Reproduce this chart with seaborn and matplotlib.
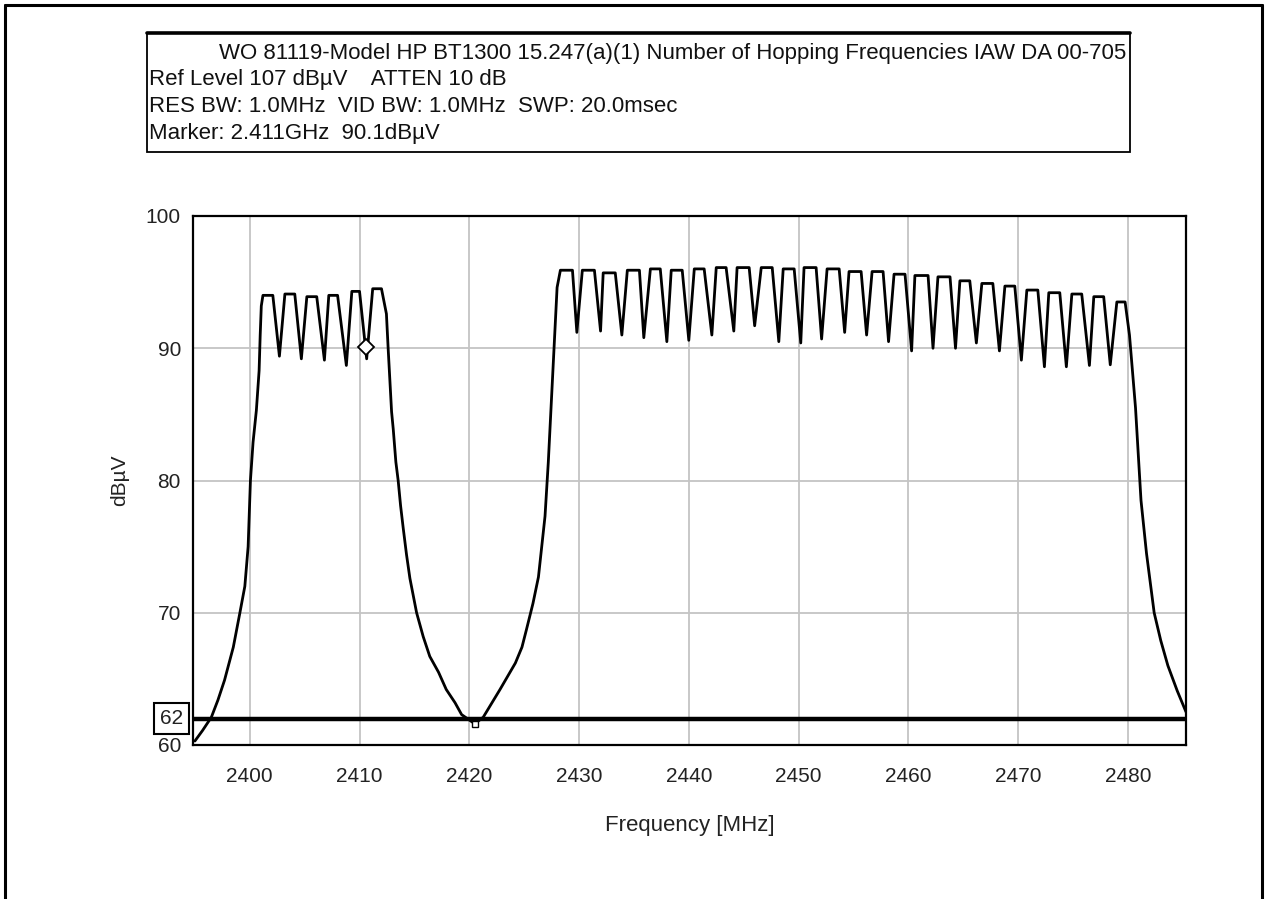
import numpy as np
import pandas as pd
import matplotlib
matplotlib.use("Agg")
import matplotlib.pyplot as plt
from matplotlib.patches import Rectangle
from matplotlib.lines import Line2D
import seaborn as sns

# ---------------- data ----------------
header_lines = [
    "WO 81119-Model HP BT1300 15.247(a)(1) Number of Hopping Frequencies IAW DA 00-705",
    "Ref Level 107 dB\u00b5V    ATTEN 10 dB",
    "RES BW: 1.0MHz  VID BW: 1.0MHz  SWP: 20.0msec",
    "Marker: 2.411GHz  90.1dB\u00b5V",
]
x_label = "Frequency [MHz]"
y_label = "dB\u00b5V"
x_ticks = [2400, 2410, 2420, 2430, 2440, 2450, 2460, 2470, 2480]
y_ticks = [60, 70, 80, 90, 100]
limit_level = 62
marker_freq, marker_level = 2410.6, 90.1
min_marker_freq, min_marker_level = 2420.5, 61.6

# rising skirt of the lower block
left_skirt_freq = [2395.0, 2395.7, 2396.5, 2397.1, 2397.7, 2398.5, 2399.1, 2399.55,
                   2399.85, 2400.06, 2400.3, 2400.6, 2400.85, 2400.95, 2401.05]
left_skirt_level = [60.3, 61.1, 62.1, 63.4, 64.9, 67.4, 70.0, 72.0,
                    75.0, 80.0, 82.9, 85.3, 88.3, 91.0, 93.2]

# hopping channels of the lower block: lobe tops and dips between them
left_top_start = [2401.2, 2403.2, 2405.2, 2407.2, 2409.3, 2411.2]
left_top_end = [2402.1, 2404.1, 2406.1, 2408.0, 2410.0, 2412.0]
left_top_level = [94.0, 94.1, 93.9, 94.0, 94.3, 94.5]
left_dip_freq = [2402.7, 2404.7, 2406.8, 2408.8, 2410.65]
left_dip_level = [89.4, 89.2, 89.1, 88.7, 89.2]

# gap between the two blocks
valley_freq = [2412.45, 2412.61, 2412.76, 2412.92, 2413.07, 2413.31, 2413.52, 2413.74,
               2413.98, 2414.28, 2414.59, 2414.89, 2415.2, 2415.8, 2416.4, 2417.2,
               2417.9, 2418.7, 2419.3, 2420.5, 2421.27, 2422.0, 2422.8, 2423.5,
               2424.2, 2424.8, 2425.2, 2425.8, 2426.3, 2426.6, 2426.9, 2427.2,
               2427.35, 2427.5, 2427.65, 2427.8, 2428.0]
valley_level = [92.6, 89.95, 87.7, 85.2, 83.9, 81.4, 80.0, 78.1,
                76.4, 74.4, 72.6, 71.3, 70.0, 68.2, 66.7, 65.5,
                64.2, 63.2, 62.3, 61.6, 62.1, 63.1, 64.2, 65.2,
                66.2, 67.4, 68.7, 70.7, 72.7, 75.0, 77.3, 81.4,
                83.9, 86.4, 88.9, 91.4, 94.6]

# hopping channels of the upper block
right_top_start = [2428.3, 2430.3, 2432.2, 2434.4, 2436.5, 2438.4, 2440.5, 2442.5, 2444.4,
                   2446.6, 2448.6, 2450.5, 2452.6, 2454.6, 2456.7, 2458.7, 2460.6, 2462.7,
                   2464.7, 2466.7, 2468.8, 2470.8, 2472.8, 2474.9, 2476.9, 2479.0]
right_top_end = [2429.4, 2431.4, 2433.3, 2435.5, 2437.4, 2439.4, 2441.4, 2443.4, 2445.5,
                 2447.6, 2449.6, 2451.6, 2453.7, 2455.7, 2457.7, 2459.7, 2461.8, 2463.8,
                 2465.6, 2467.7, 2469.7, 2471.8, 2473.8, 2475.8, 2477.8, 2479.75]
right_top_level = [95.9, 95.9, 95.7, 95.9, 96.0, 95.9, 96.0, 96.1, 96.1,
                   96.1, 96.0, 96.1, 96.0, 95.8, 95.8, 95.6, 95.5, 95.4,
                   95.1, 94.9, 94.7, 94.4, 94.2, 94.1, 93.9, 93.5]
right_dip_freq = [2429.8, 2431.96, 2433.9, 2435.9, 2438.0, 2440.0, 2442.1, 2444.1, 2446.0,
                  2448.2, 2450.2, 2452.1, 2454.2, 2456.2, 2458.2, 2460.3, 2462.25, 2464.3,
                  2466.2, 2468.3, 2470.3, 2472.4, 2474.4, 2476.5, 2478.4]
right_dip_level = [91.2, 91.3, 91.0, 90.8, 90.5, 90.6, 91.0, 91.3, 91.7,
                   90.5, 90.4, 90.7, 91.2, 91.0, 90.5, 89.8, 90.0, 90.0,
                   90.4, 89.8, 89.1, 88.6, 88.6, 88.7, 88.75]

# falling skirt of the upper block
right_skirt_freq = [2480.15, 2480.45, 2480.7, 2480.95, 2481.2, 2481.7, 2482.4, 2483.0,
                    2483.65, 2484.5, 2485.3]
right_skirt_level = [91.0, 88.0, 85.5, 82.0, 78.5, 74.5, 70.0, 67.9,
                     66.0, 64.1, 62.5]

# ---------------- assemble the trace in sweep order ----------------
def lobes(ts, te, tl, df, dl):
    f, v = [], []
    for i in range(len(ts)):
        f += [ts[i], te[i]]
        v += [tl[i], tl[i]]
        if i < len(df):
            f.append(df[i])
            v.append(dl[i])
    return f, v

lf, lv = lobes(left_top_start, left_top_end, left_top_level, left_dip_freq, left_dip_level)
rf, rv = lobes(right_top_start, right_top_end, right_top_level, right_dip_freq, right_dip_level)
trace = pd.DataFrame({
    "freq": left_skirt_freq + lf + valley_freq + rf + right_skirt_freq,
    "level": left_skirt_level + lv + valley_level + rv + right_skirt_level,
})

# ---------------- figure ----------------
sns.set_theme(style="white")
plt.rcParams["font.family"] = ["Liberation Sans", "DejaVu Sans"]
W, H = 1267, 899
fig = plt.figure(figsize=(W / 100, H / 100), dpi=100)
fig.patch.set_facecolor("white")

ax = fig.add_axes([192.7 / W, 1 - 745 / H, (1186 - 192.7) / W, (745 - 216) / H])
ax.set_facecolor("white")
ax.set_xlim(2394.8, 2485.3)
ax.set_ylim(60, 100)
ax.set_xticks(x_ticks)
ax.set_yticks(y_ticks)
ax.set_xticks([2395 + 10 * i for i in range(10)], minor=True)
ax.set_yticks([65, 75, 85, 95], minor=True)
ax.grid(True, which="major", color="#c4c4c4", lw=1.3)
ax.set_axisbelow(True)
for s in ax.spines.values():
    s.set_color("black")
    s.set_linewidth(1.6)
ax.tick_params(which="both", direction="inout", length=11, width=1.5, color="black",
               labelsize=15, labelcolor="#222222")
ax.tick_params(axis="y", which="both", pad=3)
ax.tick_params(axis="x", which="both", pad=10)

ax.axhline(limit_level, color="black", lw=3.2, zorder=3)
sns.lineplot(data=trace, x="freq", y="level", ax=ax, color="black", lw=2.0,
             sort=False, estimator=None, zorder=4)
for ln in ax.get_lines():
    ln.set_solid_joinstyle("round")
    ln.set_solid_capstyle("round")
ax.plot([marker_freq], [marker_level], marker="D", ms=8, mfc="white", mec="black",
        mew=1.3, zorder=5, ls="none")
ax.plot([min_marker_freq], [min_marker_level], marker="s", ms=4.5, mfc="white",
        mec="black", mew=1.0, zorder=5, ls="none")

ax.set_xlabel(x_label, fontsize=16, color="#222222", labelpad=21)
ax.set_ylabel(y_label, fontsize=15, color="#222222", labelpad=12)

ax.annotate(str(limit_level), xy=(0, limit_level),
            xycoords=("axes fraction", "data"), xytext=(-7, 0),
            textcoords="offset points", ha="right", va="center", fontsize=15,
            color="#222222", annotation_clip=False, zorder=6,
            bbox=dict(boxstyle="square,pad=0.28", fc="white", ec="black", lw=1.5))

# header box
fig.patches.append(Rectangle((147 / W, 1 - 152 / H), (1130 - 147) / W, (152 - 33) / H,
                             transform=fig.transFigure, fill=False, ec="black", lw=1.3))
fig.add_artist(Line2D([147 / W, 1130 / W], [1 - 33 / H, 1 - 33 / H],
                      transform=fig.transFigure, color="black", lw=2.6))
fig.text(1126 / W, 1 - 53 / H, header_lines[0], ha="right", va="center",
         fontsize=16, color="#111111")
for line, ypix in zip(header_lines[1:], [79, 106, 133]):
    fig.text(149 / W, 1 - ypix / H, line, ha="left", va="center", fontsize=16,
             color="#111111")

# outer frame
for xs, ys in [([5 / W, 5 / W], [0, 1 - 5 / H]),
               ([5 / W, 1262 / W], [1 - 5 / H, 1 - 5 / H]),
               ([1262 / W, 1262 / W], [0, 1 - 5 / H])]:
    fig.add_artist(Line2D(xs, ys, transform=fig.transFigure, color="black", lw=2.2))

fig.savefig("out.png", dpi=100)
